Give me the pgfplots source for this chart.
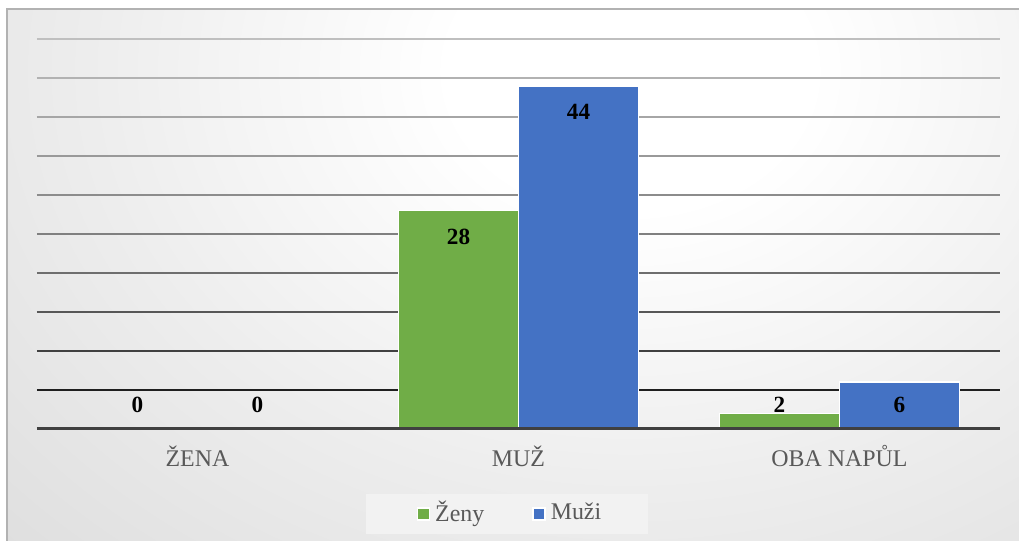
\documentclass[border=0pt]{standalone}
\usepackage{pgfplots}
\pgfplotsset{compat=1.18}
\usepackage{fontspec}
\setmainfont{Liberation Serif}

\definecolor{zelena}{HTML}{70AD47}
\definecolor{modra}{HTML}{4472C4}
\definecolor{popis}{HTML}{595959}

\pgfdeclareradialshading{pozadi}{\pgfpoint{0bp}{0bp}}{%
  color(0bp)=(white); color(5bp)=(white); color(15bp)=(black!7);
  color(25bp)=(black!13); color(38bp)=(black!20); color(50bp)=(black!24)}

\begin{document}
\begin{tikzpicture}
% 1 px of the reference = 0.01 cm
\path[use as bounding box] (0,0) rectangle (10.19,5.41);
\begin{scope}
  \clip (0.07,0) rectangle (10.19,5.32);
  \shade[shading=pozadi] (6.3,4.7) ellipse (9cm and 7cm);
\end{scope}
\draw[black!30, line width=0.3pt] (0.07,0) -- (0.07,5.32) -- (10.19,5.32);

\begin{axis}[
    at={(0.37cm,1.12cm)}, anchor=south west,
    scale only axis, width=9.63cm, height=3.90cm,
    ybar=0pt, bar width=1.2cm,
    xmin=-0.5, xmax=2.5, ymin=0, ymax=50,
    axis line style={draw=none}, clip=false,
    xtick={0,1,2},
    xticklabels={ŽENA, MUŽ, OBA NAPŮL},
    xticklabel style={font=\fontsize{6.8}{8}\selectfont, text=popis, anchor=base, yshift=-0.38cm},
    ytick=\empty,
    major tick length=0pt,
    /pgf/number format/assume math mode=true,
    nodes near coords={\pgfmathprintnumber{\pgfplotspointmeta}},
    visualization depends on={y \as \rawy},
    every node near coord/.append style={font=\fontsize{6.6}{8}\selectfont\bfseries, text=black,
        anchor=center, yshift={(max(\rawy-3.4,3.1)-\rawy)*0.078cm}},
    legend image code/.code={\path (-0.11cm,0cm);
        \draw[#1, draw=white, line width=0.4pt] (0cm,-0.06cm) rectangle (0.12cm,0.06cm);},
    legend style={at={(0.488,-0.218)}, anchor=center, fill=black!5, draw=none,
        font=\fontsize{6.8}{8}\selectfont, text=popis,
        inner xsep=0.40cm, inner ysep=0cm,
        /tikz/every odd column/.append style={column sep=-0.02cm},
        /tikz/every even column/.append style={column sep=0.30cm}},
    legend columns=2,
]
% gridlines, darker towards the bottom
\draw[black!88, line width=0.2mm] (axis cs:-0.5,5) -- (axis cs:2.5,5);
\draw[black!75, line width=0.2mm] (axis cs:-0.5,10) -- (axis cs:2.5,10);
\draw[black!66, line width=0.2mm] (axis cs:-0.5,15) -- (axis cs:2.5,15);
\draw[black!57, line width=0.2mm] (axis cs:-0.5,20) -- (axis cs:2.5,20);
\draw[black!50, line width=0.2mm] (axis cs:-0.5,25) -- (axis cs:2.5,25);
\draw[black!45, line width=0.2mm] (axis cs:-0.5,30) -- (axis cs:2.5,30);
\draw[black!40, line width=0.2mm] (axis cs:-0.5,35) -- (axis cs:2.5,35);
\draw[black!35, line width=0.2mm] (axis cs:-0.5,40) -- (axis cs:2.5,40);
\draw[black!30, line width=0.2mm] (axis cs:-0.5,45) -- (axis cs:2.5,45);
\draw[black!25, line width=0.2mm] (axis cs:-0.5,50) -- (axis cs:2.5,50);

\addplot[fill=zelena, draw=white, line width=0.15mm] coordinates {(0,0) (1,28) (2,2)};
\addlegendentry{Ženy}
\addplot[fill=modra, draw=white, line width=0.15mm] coordinates {(0,0) (1,44) (2,6)};
\addlegendentry{Muži\hspace{-0.13cm}}

\draw[black!75, line width=0.3mm] (axis cs:-0.5,0) -- (axis cs:2.5,0);
\end{axis}
\end{tikzpicture}
\end{document}
